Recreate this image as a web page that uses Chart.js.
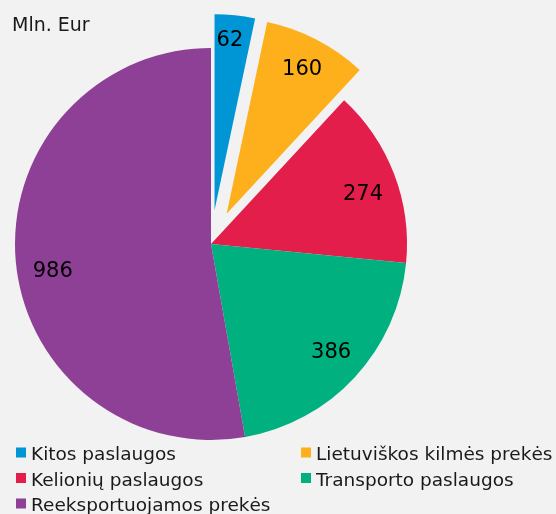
<!DOCTYPE html>
<html>
<head>
<meta charset="utf-8">
<script src="https://cdn.jsdelivr.net/npm/chart.js@4/dist/chart.umd.min.js"></script>
<style>
  html, body { margin: 0; padding: 0; background: #f2f2f2; }
</style>
</head>
<body>
<canvas id="pieChart" width="556" height="514"></canvas>
<script>
const unitLabel = 'Mln. Eur';
const categories = ['Kitos paslaugos', 'Lietuviškos kilmės prekės', 'Kelionių paslaugos', 'Transporto paslaugos', 'Reeksportuojamos prekės'];
const values = [62, 160, 274, 386, 986];

// pulls the first slices out from the centre, like an exploded pie
const explodePlugin = {
  id: 'explode',
  afterDatasetUpdate(chart, args, opts) {
    const meta = chart.getDatasetMeta(args.index);
    meta.data.forEach((arc, i) => {
      const d = opts.distance[i] || 0;
      if (!d) return;
      const mid = (arc.startAngle + arc.endAngle) / 2;
      arc.x += Math.cos(mid) * d;
      arc.y += Math.sin(mid) * d;
    });
  }
};

// value labels inside the slices
const sliceLabelPlugin = {
  id: 'sliceLabels',
  afterDatasetsDraw(chart, args, opts) {
    const ctx = chart.ctx;
    const meta = chart.getDatasetMeta(0);
    const data = chart.data.datasets[0].data;
    ctx.save();
    ctx.font = opts.font;
    ctx.fillStyle = opts.color;
    ctx.textAlign = 'center';
    ctx.textBaseline = 'middle';
    meta.data.forEach((arc, i) => {
      const mid = (arc.startAngle + arc.endAngle) / 2 + (opts.angleShift[i] || 0) * Math.PI / 180;
      const r = arc.outerRadius * (opts.radiusFactor[i] || 0.83);
      ctx.fillText(String(data[i]), arc.x + Math.cos(mid) * r, arc.y + Math.sin(mid) * r);
    });
    ctx.restore();
  }
};

// unit caption and a two-column legend
const titleLegendPlugin = {
  id: 'titleLegend',
  afterDraw(chart, args, opts) {
    const ctx = chart.ctx;
    const ds = chart.data.datasets[0];
    ctx.save();
    ctx.textAlign = 'left';
    ctx.textBaseline = 'alphabetic';
    ctx.fillStyle = opts.color;
    ctx.font = opts.titleFont;
    ctx.fillText(unitLabel, opts.titleX, opts.titleY);
    ctx.font = opts.font;
    chart.data.labels.forEach((label, i) => {
      const x = opts.left + (i % 2) * opts.colWidth;
      const y = opts.top + Math.floor(i / 2) * opts.rowHeight;
      ctx.fillStyle = ds.backgroundColor[i];
      ctx.fillRect(x, y - 12.5, opts.box, opts.box);
      ctx.fillStyle = opts.color;
      ctx.fillText(label, x + opts.box + 5, y);
    });
    ctx.restore();
  }
};

const ctx = document.getElementById('pieChart').getContext('2d');
new Chart(ctx, {
  type: 'pie',
  data: {
    labels: categories,
    datasets: [
      {
        data: values,
        backgroundColor: ['#0096d6', '#fdb01b', '#e31e4b', '#00b07f', '#8e3f96'],
        borderWidth: 0,
        radius: 196
      }
    ]
  },
  plugins: [explodePlugin, sliceLabelPlugin, titleLegendPlugin],
  options: {
    responsive: false,
    animation: false,
    layout: {
      padding: { left: 15, right: 149, top: 48, bottom: 74 }
    },
    plugins: {
      legend: { display: false },
      tooltip: { enabled: false },
      explode: { distance: [34, 34, 0, 0, 0] },
      sliceLabels: {
        font: '21px "DejaVu Sans"',
        color: '#000',
        radiusFactor: [0.87, 0.83, 0.816, 0.826, 0.82],
        angleShift: [-0.8, 0.3, 2.7, -0.7, -5]
      },
      titleLegend: {
        titleFont: '19px "DejaVu Sans"',
        font: '18.5px "DejaVu Sans"',
        color: '#1a1a1a',
        titleX: 12,
        titleY: 31,
        left: 16,
        top: 460,
        colWidth: 285,
        rowHeight: 25.5,
        box: 10
      }
    }
  }
});
</script>
</body>
</html>
